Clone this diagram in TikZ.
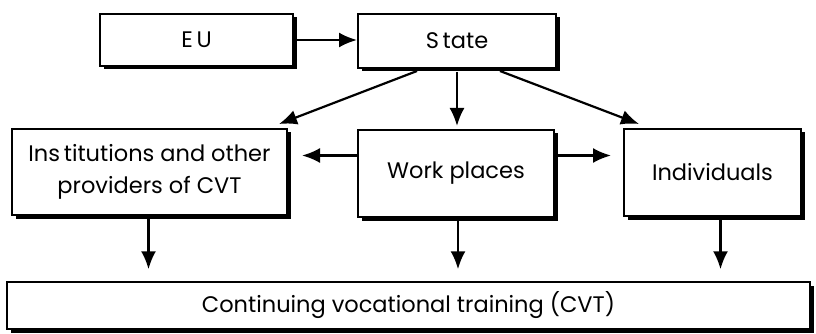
\documentclass[tikz,border=0pt]{standalone}
\usepackage{fontspec}
\setmainfont{Poppins}
\usetikzlibrary{arrows.meta,shadows}
\tikzset{
  box/.style={draw, line width=2pt, fill=white, align=center,
    font=\fontsize{22.5}{32}\selectfont,
    drop shadow={shadow xshift=3.5pt, shadow yshift=-3.5pt, fill=black, opacity=1}},
  arr/.style={line width=2.2pt, -{Latex[length=18pt,width=15pt]}}
}
\begin{document}
\begin{tikzpicture}[x=1pt,y=-1pt]
  \useasboundingbox (0,0) rectangle (816,334);
  \node[box, minimum width=193pt, minimum height=52pt] (eu) at (196.5,40) {E\,U};
  \node[box, minimum width=198pt, minimum height=54pt] (state) at (457,41) {S\,tate};
  \node[box, minimum width=275pt, minimum height=86pt] (inst) at (149.5,172) {Ins\,titutions and other\\providers of CVT};
  \node[box, minimum width=196pt, minimum height=87pt] (work) at (456,173.5) {Work places};
  \node[box, minimum width=177pt, minimum height=87pt] (indiv) at (712.5,172.5) {Individuals};
  \node[box, drop shadow={opacity=0}, line width=1.5pt, minimum width=803pt, minimum height=47pt] (cvt) at (408.5,305.5) {Continuing vocational training (CVT)};
  \draw[arr, shorten <=3pt] (eu.east) -- (eu.east -| state.west);
  \draw[arr, shorten <=3pt, shorten >=3pt] (state.south) -- (state.south |- work.north);
  \draw[arr] ([xshift=-40pt,yshift=-2pt]state.south) -- ([shift={(-9,-4)}]inst.north east);
  \draw[arr] ([xshift=43pt,yshift=-2pt]state.south) -- ([shift={(16,-4)}]indiv.north west);
  \draw[arr, shorten >=14pt] ([yshift=18pt]work.west) -- ([yshift=18pt]work.west -| inst.east);
  \draw[arr, shorten <=3pt, shorten >=12pt] ([yshift=18pt]work.east) -- ([yshift=18pt]work.east -| indiv.west);
  \draw[arr, shorten <=3pt, shorten >=12pt] ([xshift=-1pt]inst.south) -- ([xshift=-1pt]inst.south |- cvt.north);
  \draw[arr, shorten <=3pt, shorten >=12pt] ([xshift=2pt]work.south) -- ([xshift=2pt]work.south |- cvt.north);
  \draw[arr, shorten <=3pt, shorten >=12pt] ([xshift=8pt]indiv.south) -- ([xshift=8pt]indiv.south |- cvt.north);
\end{tikzpicture}
\end{document}
